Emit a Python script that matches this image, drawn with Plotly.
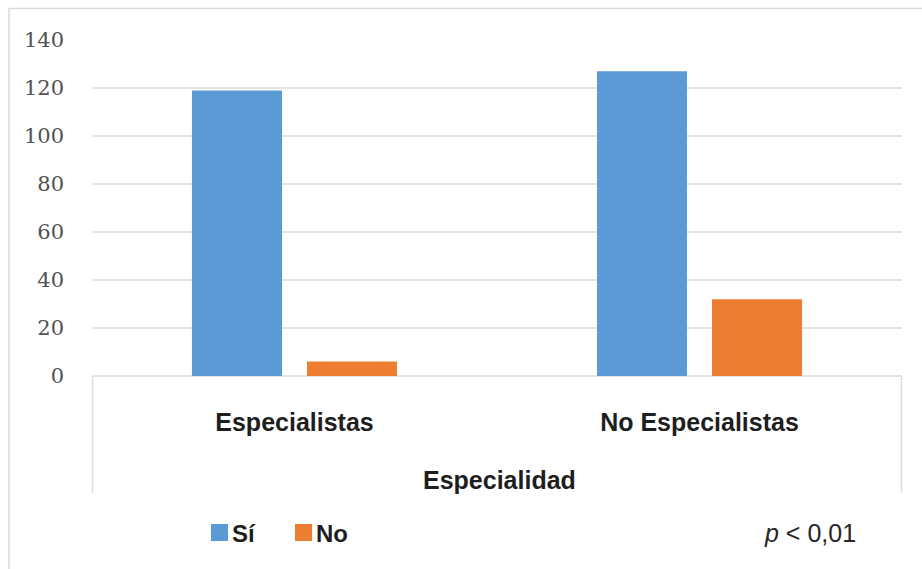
import plotly.graph_objects as go

# Data
categories = ["Especialistas", "No Especialistas"]
series_names = ["Sí", "No"]
si_values = [119, 127]
no_values = [6, 32]
y_ticks = [0, 20, 40, 60, 80, 100, 120, 140]
axis_title = "Especialidad"
stat_note = "<i>p</i> < 0,01"

colors = ["#5B9BD5", "#ED7D31"]

W, H = 922, 569
L, R, T, B = 92, 20, 40, 193
pw = W - L - R
ph = H - T - B

SERIF = "DejaVu Serif"
SANS = "Liberation Sans, Arial, sans-serif"


def px_x(x):
    return (x - L) / pw


def px_y(y):
    return (H - B - y) / ph


fig = go.Figure()
for name, vals, col in zip(series_names, [si_values, no_values], colors):
    fig.add_trace(go.Bar(x=categories, y=vals, name=name, marker_color=col,
                         marker_line_width=0, showlegend=False))

grid = "#e3e3e3"
fig.update_layout(
    width=W, height=H,
    margin=dict(l=L, r=R, t=T, b=B),
    paper_bgcolor="white", plot_bgcolor="white",
    barmode="group", bargap=0.432, bargroupgap=0.217,
    xaxis=dict(
        showgrid=False, showline=False, zeroline=False, ticks="",
        tickfont=dict(family=SANS, size=25, color="#1e1e1e", weight="bold"),
        ticklabelstandoff=29,
    ),
    yaxis=dict(
        range=[0, 140], tickvals=y_ticks, showgrid=True, gridcolor=grid, gridwidth=1.5,
        zeroline=True, zerolinecolor=grid, zerolinewidth=1.5, showline=False, ticks="",
        tickfont=dict(family=SERIF, size=21, color="#525252"),
        ticklabelstandoff=27,
    ),
)

shapes = []
# Outer chart frame
shapes.append(dict(type="rect", xref="paper", yref="paper",
                   x0=px_x(9), x1=px_x(930), y0=px_y(580), y1=px_y(8.5),
                   line=dict(color="#d9d9d9", width=1.5), fillcolor="rgba(0,0,0,0)", layer="below"))
# Category box below the axis
for xp in (92.5, 901.5):
    shapes.append(dict(type="line", xref="paper", yref="paper",
                       x0=px_x(xp), x1=px_x(xp), y0=0, y1=px_y(493),
                       line=dict(color="#dcdcdc", width=1.5)))

annotations = [
    dict(text=axis_title, xref="paper", yref="paper", x=px_x(499.5), y=px_y(480),
         xanchor="center", yanchor="middle", showarrow=False,
         font=dict(family=SANS, size=25, color="#1e1e1e", weight="bold")),
    dict(text=stat_note, xref="paper", yref="paper", x=px_x(858), y=px_y(533),
         xanchor="right", yanchor="middle", showarrow=False,
         font=dict(family=SANS, size=25, color="#262626")),
]

# Legend drawn as swatches with labels
legend_x = [211, 295]
for name, col, lx in zip(series_names, colors, legend_x):
    shapes.append(dict(type="rect", xref="paper", yref="paper",
                       x0=px_x(lx), x1=px_x(lx + 17), y0=px_y(541), y1=px_y(524),
                       fillcolor=col, line=dict(width=0)))
    annotations.append(dict(text=name, xref="paper", yref="paper", x=px_x(lx + 19), y=px_y(533),
                            xanchor="left", yanchor="middle", showarrow=False,
                            font=dict(family=SANS, size=24, color="#1e1e1e", weight="bold")))

fig.update_layout(shapes=shapes, annotations=annotations)
fig.write_html("out.html")
